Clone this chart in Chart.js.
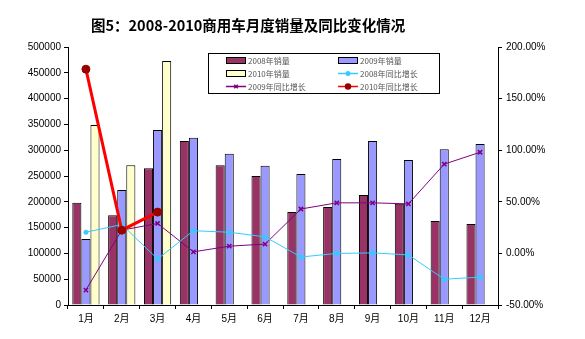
<!DOCTYPE html>
<html>
<head>
<meta charset="utf-8">
<script src="https://cdn.jsdelivr.net/npm/chart.js@4"></script>
<style>
    html, body { margin: 0; padding: 0; background: #ffffff; }
    #wrap { width: 585px; height: 339px; }
</style>
</head>
<body>
<div id="wrap"><canvas id="salesChart" width="585" height="339"></canvas></div>
<script>
// months
const months = ['1月', '2月', '3月', '4月', '5月', '6月', '7月', '8月', '9月', '10月', '11月', '12月'];

// monthly sales (units)
const sales2008 = [198000, 174000, 265000, 318000, 271000, 250000, 180000, 190000, 213000, 196000, 163000, 157000];
const sales2009 = [128000, 223000, 339000, 324000, 293000, 270000, 254000, 283000, 318000, 281000, 302000, 312000];
const sales2010 = [349000, 271000, 473000, null, null, null, null, null, null, null, null, null];

// year-on-year growth (%)
const growth2008 = [20.5, 28, -5.5, 22, 20.5, 16, -3.5, 0, 0.5, -1.5, -25, -23];
const growth2009 = [-35.5, 22.5, 29, 1.5, 7, 9, 43, 49, 49, 48, 86.5, 98];
const growth2010 = [178.5, 22.5, 40, null, null, null, null, null, null, null, null, null];

const titleText = '图5：2008-2010商用车月度销量及同比变化情况';

// title + in-plot legend box, drawn like the Excel original
const decorPlugin = {
    id: 'decor',
    afterDraw(chart) {
        const ctx = chart.ctx;
        ctx.save();
        ctx.fillStyle = '#000000';
        ctx.font = 'bold 14.5px "Noto Sans CJK SC", sans-serif';
        ctx.textBaseline = 'middle';
        ctx.textAlign = 'left';
        ctx.fillText(titleText, 91, 25);

        // legend box
        const bx = 208, by = 53, bw = 231, bh = 40;
        ctx.fillStyle = '#ffffff';
        ctx.fillRect(bx, by, bw, bh);
        ctx.strokeStyle = '#000000';
        ctx.lineWidth = 1;
        ctx.strokeRect(bx + 0.5, by + 0.5, bw, bh);

        const cols = [226, 338];
        const rows = [60, 73, 86];
        chart.data.datasets.forEach((ds, i) => {
            const x = cols[i % 2];
            const y = rows[Math.floor(i / 2)];
            if (ds.type === 'bar') {
                ctx.fillStyle = ds.backgroundColor;
                ctx.fillRect(x, y - 3, 19, 6);
                ctx.strokeStyle = '#000000';
                ctx.strokeRect(x + 0.5, y - 3 + 0.5, 19, 6);
            } else {
                ctx.strokeStyle = ds.borderColor;
                ctx.lineWidth = 1.5;
                ctx.beginPath();
                ctx.moveTo(x, y + 0.5);
                ctx.lineTo(x + 20, y + 0.5);
                ctx.stroke();
                ctx.strokeStyle = ds.pointBorderColor || ds.borderColor;
                ctx.fillStyle = ds.backgroundColor;
                Chart.helpers.drawPoint(ctx, {
                    pointStyle: ds.pointStyle,
                    radius: 2.5,
                    borderWidth: 1
                }, x + 10, y + 0.5);
                ctx.lineWidth = 1;
            }
            ctx.fillStyle = '#555555';
            ctx.font = '8px "Noto Sans CJK SC", sans-serif';
            ctx.textAlign = 'left';
            ctx.fillText(ds.label, x + 22, y + 1);
        });
        ctx.restore();
    }
};

const ctx = document.getElementById('salesChart').getContext('2d');

new Chart(ctx, {
    data: {
        labels: months,
        datasets: [
            {
                type: 'bar', label: '2008年销量', data: sales2008, yAxisID: 'y',
                backgroundColor: '#993366', borderColor: '#000000', borderWidth: 1, order: 2
            },
            {
                type: 'bar', label: '2009年销量', data: sales2009, yAxisID: 'y',
                backgroundColor: '#9999ff', borderColor: '#000000', borderWidth: 1, order: 2
            },
            {
                type: 'bar', label: '2010年销量', data: sales2010, yAxisID: 'y',
                backgroundColor: '#ffffcc', borderColor: '#000000', borderWidth: 1, order: 2
            },
            {
                type: 'line', label: '2008年同比增长', data: growth2008, yAxisID: 'y1',
                borderColor: '#33ccff', backgroundColor: '#33ccff', borderWidth: 1,
                pointStyle: 'star', pointRadius: 2.5, pointBorderWidth: 1.5, order: 1
            },
            {
                type: 'line', label: '2009年同比增长', data: growth2009, yAxisID: 'y1',
                borderColor: '#800080', backgroundColor: '#800080', borderWidth: 1,
                pointStyle: 'crossRot', pointRadius: 3, pointBorderWidth: 1.5, order: 1
            },
            {
                type: 'line', label: '2010年同比增长', data: growth2010, yAxisID: 'y1',
                borderColor: '#ff0000', backgroundColor: '#990000', borderWidth: 3,
                pointStyle: 'circle', pointRadius: 4, pointBorderColor: '#990000',
                pointBorderWidth: 1, order: 0
            }
        ]
    },
    options: {
        responsive: false,
        animation: false,
        layout: { padding: { top: 47, left: 0, right: 0, bottom: 0 } },
        datasets: {
            bar: { barPercentage: 1.0, categoryPercentage: 0.76 }
        },
        plugins: {
            legend: { display: false },
            title: { display: false },
            tooltip: { enabled: false }
        },
        scales: {
            x: {
                offset: true,
                border: { color: '#000000', width: 1 },
                grid: { display: true, drawOnChartArea: false, color: '#000000', tickLength: 4, offset: true },
                ticks: { color: '#000000', font: { family: 'Arial, "Noto Sans CJK SC"', size: 10 }, padding: 4, maxRotation: 0 },
                afterFit(scale) { scale.height = 34; }
            },
            y: {
                position: 'left',
                min: 0, max: 500000,
                border: { color: '#000000', width: 1 },
                grid: { display: true, drawOnChartArea: false, color: '#000000', tickLength: 4 },
                ticks: {
                    stepSize: 50000, color: '#000000', padding: 3,
                    font: { family: 'Arial', size: 10 },
                    callback: v => String(v)
                },
                afterFit(scale) { scale.width = 68; }
            },
            y1: {
                position: 'right',
                min: -50, max: 200,
                border: { color: '#000000', width: 1 },
                grid: { display: true, drawOnChartArea: false, color: '#000000', tickLength: 4 },
                ticks: {
                    stepSize: 50, color: '#000000', padding: 4,
                    font: { family: 'Arial', size: 10 },
                    callback: v => v.toFixed(2) + '%'
                },
                afterFit(scale) { scale.width = 87; }
            }
        }
    },
    plugins: [decorPlugin]
});
</script>
</body>
</html>
